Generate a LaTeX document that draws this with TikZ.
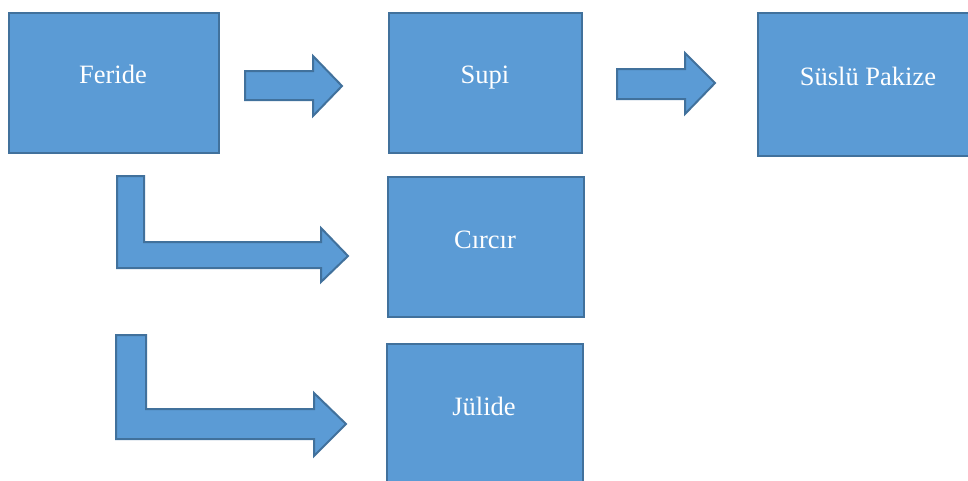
\documentclass[tikz,border=0pt]{standalone}
\usepackage{fontspec}
\setmainfont{Liberation Serif}
\definecolor{boxfill}{HTML}{5B9BD5}
\definecolor{boxline}{HTML}{41719C}
\begin{document}
\begin{tikzpicture}[x=1pt,y=-1pt,
  box/.style={draw=boxline,fill=boxfill,line width=2pt,inner sep=0pt,anchor=north west},
  blockarrow/.style={draw=boxline,fill=boxfill,line width=2pt,line join=miter},
  lbl/.style={text=white,font=\fontsize{26.5}{30}\selectfont,anchor=base,inner sep=0pt}]
\useasboundingbox (0,0) rectangle (968,480);
% boxes
\node[box,minimum width=210pt,minimum height=140pt] (feride) at (8,12) {};
\node[box,minimum width=193pt,minimum height=140pt] (supi) at (388,12) {};
\node[box,minimum width=216pt,minimum height=143pt] (suslu) at (757,12) {};
\node[box,minimum width=196pt,minimum height=140pt] (circir) at (387,176) {};
\node[box,minimum width=196pt,minimum height=150pt] (julide) at (386,343) {};
% labels
\node[lbl] (t1) at (113,83) {Feride};
\node[lbl] (t2) at (485,83) {Supi};
\node[lbl] (t3) at (868,85) {Süslü Pakize};
\node[lbl] (t4) at (485,248) {Cırcır};
\node[lbl] (t5) at (484,415) {Jülide};
% straight block arrows
\draw[blockarrow] (245,71) -- (313,71) -- (313,56) -- (342,86) -- (313,116) -- (313,100) -- (245,100) -- cycle;
\draw[blockarrow] (617,69) -- (685,69) -- (685,53) -- (715,83) -- (685,114) -- (685,99) -- (617,99) -- cycle;
% bent block arrows
\draw[blockarrow] (117,176) -- (144,176) -- (144,242) -- (321,242) -- (321,228) -- (348,256) -- (321,282) -- (321,268) -- (117,268) -- cycle;
\draw[blockarrow] (116,335) -- (146,335) -- (146,409) -- (314,409) -- (314,393) -- (346,424) -- (314,456) -- (314,439) -- (116,439) -- cycle;
\end{tikzpicture}
\end{document}
